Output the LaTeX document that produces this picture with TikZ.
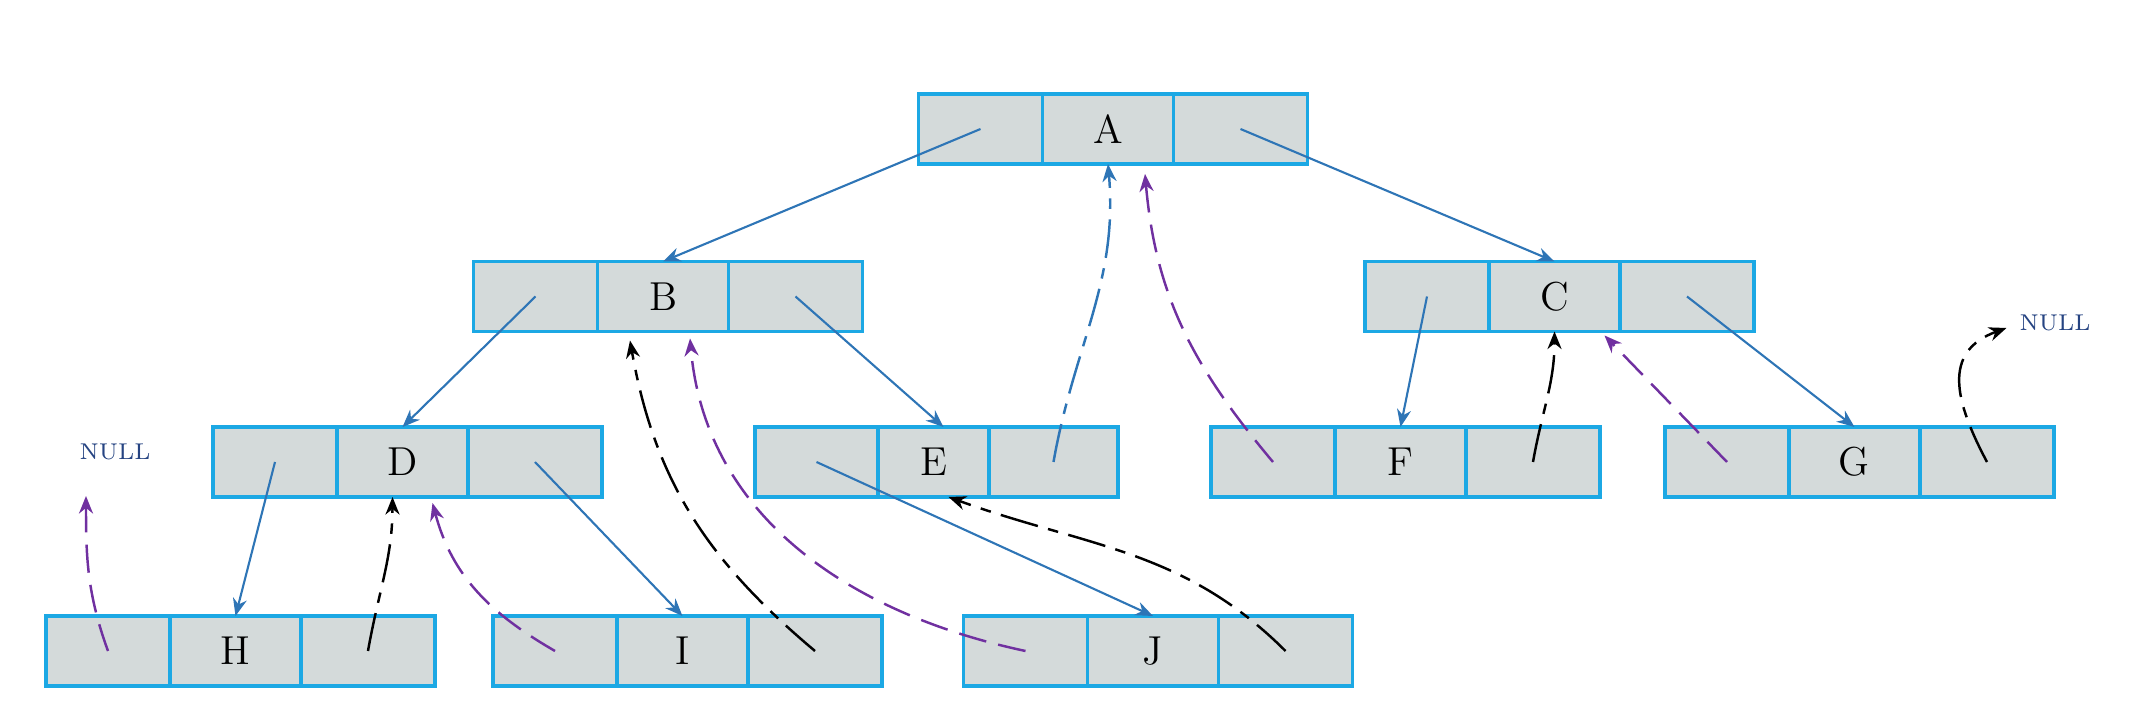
\documentclass[tikz,border=0pt]{standalone}
\usepackage{amsmath,amssymb}
\usetikzlibrary{arrows.meta,calc,positioning}

\definecolor{cellfill}{RGB}{212,218,218}
\definecolor{cellline}{RGB}{28,168,228}
\definecolor{ptrblue}{RGB}{46,117,182}
\definecolor{thrpurple}{RGB}{112,48,160}
\definecolor{nullblue}{RGB}{38,68,130}

\begin{document}
\begin{tikzpicture}[>={Stealth[length=5pt,width=4pt]}, thick,
  cell/.style={draw=cellline, line width=0.9pt, fill=cellfill, minimum height=0.70cm,
    inner sep=0pt, outer sep=0pt, font=\fontsize{11.5}{12}\selectfont},
  child/.style={->, ptrblue, line width=0.6pt},
  pthread/.style={->, thrpurple, line width=0.7pt, dash pattern=on 8pt off 3.5pt},
  kthread/.style={->, black, line width=0.7pt, dash pattern=on 11pt off 3pt on 3pt off 3pt},
  nullmark/.style={text=nullblue, font=\fontsize{6.5}{7}\selectfont}]

  \useasboundingbox (0,0) rectangle (21.38,-7.08);

  % Threaded tree nodes: left pointer | data | right pointer
  \foreach \n/\x/\y/\wl/\wm/\wr in {A/11.08/-1.29/1.24/1.31/1.34,
      B/6.63/-2.965/1.24/1.31/1.34, C/15.545/-2.965/1.24/1.31/1.34,
      D/4.025/-4.62/1.24/1.31/1.34, E/9.335/-4.62/1.23/1.11/1.29,
      F/14.005/-4.62/1.24/1.31/1.34, G/18.545/-4.62/1.24/1.31/1.34,
      H/2.355/-6.51/1.24/1.31/1.34, I/6.825/-6.51/1.24/1.31/1.34,
      J/11.53/-6.51/1.24/1.31/1.34} {
    \node[cell, minimum width=\wm cm] (\n) at (\x,\y) {\n};
    \node[cell, minimum width=\wl cm, left=0pt of \n] (\n l) {};
    \node[cell, minimum width=\wr cm, right=0pt of \n] (\n r) {};
  }

  \node[nullmark] (nullH) at (1.15,-4.52) {NULL};
  \node[nullmark] (nullG) at (20.55,-3.23) {NULL};

  % Child pointers
  \draw[child] (Al.center) -- (B.north);
  \draw[child] (Ar.center) -- (C.north);
  \draw[child] (Bl.center) -- (D.north);
  \draw[child] (Br.center) -- ([xshift=1mm]E.north);
  \draw[child] (Cl.center) -- (F.north);
  \draw[child] (Cr.center) -- (G.north);
  \draw[child] (Dl.center) -- (H.north);
  \draw[child] (Dr.center) -- (I.north);
  \draw[child] (El.center) -- (J.north);

  % Threads (predecessor purple, successor black)
  \coordinate (hnull) at (0.86,-4.96);
  \draw[pthread] (Hl.center) to[out=110,in=-90] (hnull);
  \draw[kthread] (Hr.center) to[out=80,in=-90] ([xshift=-1mm]D.south);
  \draw[pthread] (Il.center) to[out=150,in=-75] ([xshift=3mm,yshift=-0.6mm]D.south);
  \draw[kthread] (Ir.center) to[out=140,in=-80] ([xshift=-3.3mm,yshift=-0.9mm]B.south);
  \draw[pthread] (Jl.center) to[out=168,in=-85] ([xshift=2.7mm,yshift=-0.7mm]B.south);
  \draw[kthread, ptrblue] (Er.center) to[out=80,in=-85] (A.south);
  \draw[kthread] (Jr.center) to[out=135,in=-20] ([xshift=1.5mm]E.south);
  \draw[pthread] (Fl.center) to[out=130,in=-85] ([xshift=3.7mm,yshift=-1mm]A.south);
  \draw[kthread] (Fr.center) to[out=80,in=-90] (C.south);
  \draw[pthread] (Gl.center) -- ([xshift=5mm,yshift=-0.4mm]C.south);
  \draw[kthread] (Gr.center) to[out=118,in=200,looseness=1.3] ([yshift=-0.5mm]nullG.west);

\end{tikzpicture}
\end{document}
